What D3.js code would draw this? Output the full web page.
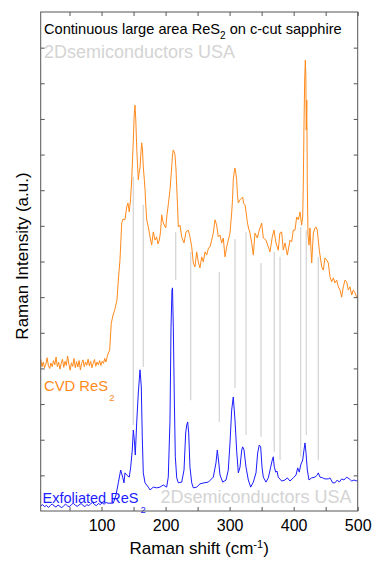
<!DOCTYPE html>
<html><head><meta charset="utf-8">
<script src="https://cdn.jsdelivr.net/npm/d3@7/dist/d3.min.js"></script>
<style>html,body{margin:0;padding:0;background:#fff;}svg{display:block;}text{font-family:"Liberation Sans",Arial,sans-serif;}</style>
</head><body><svg id="c" width="392" height="572"></svg>
<script>
// ---- data ----
const xTickValues = [100, 200, 300, 400, 500];
const xMinorTicks = [50, 150, 250, 350, 450];
const yTickValues = [1,2,3,4,5,6,7,8,9,10,11,12,13];

const cvdShift = [5,7,9,11,13,15,17,19,21,23,25,27,29,31,33,35,37,39,41,43,45,47,49,51,53,55,57,59,61,63,65,67,69,71,73,75,77,79,81,83,85,87,89,91,93,95,97,99,101,103,105,107,109,
112.7,115.2,118,120.6,124.1,126.2,128.8,131.5,133.5,136.6,139.3,141.3,143.3,145.2,147.1,149.6,151.0,152.2,153.5,154.9,156.2,157.4,158.8,160.1,161.3,162.7,164.0,165.2,166.6,167.9,169.1,170.5,173.0,175.7,178.3,180.8,183.5,186.1,188.2,190.2,192.1,193.9,196.4,200.2,202.2,204.2,206.9,209.6,210.8,212.1,213.5,214.7,216.3,217.4,218.6,219.9,222.5,225.2,228.8,231.9,235.5,238.1,240.8,243.3,245.9,248.6,251.1,253.7,256.4,258.9,261.6,264.2,267.0,269.4,272.0,274.5,277.2,279.8,282.3,285.0,287.6,290.1,292.8,295.4,297.9,300.6,303.2,304.5,305.7,307.2,308.4,309.7,311.0,312.3,313.5,316.2,318.9,320.4,321.7,324.0,325.9,327.6,329.5,331.8,334.5,337.0,339.6,343.2,346.3,350.1,352.6,356.8,360.4,363.1,366.6,369.3,372.4,376.0,378.5,381.3,383.8,386.5,390.1,394.3,396.9,399.4,402.1,404.7,407.3,409.9,412.5,414.1,415.0,416.1,417.2,418.2,419.0,419.7,420.5,421.3,422.4,424.0,425.5,427.1,428.2,430.7,433.3,434.9,436.9,440.0,443.8,446.3,448.9,451.6,454.1,456.7,459.4,461.9,464.5,467.2,469.7,472.4,475.0,477.5,480.2,482.8,485.3,488.0,490.6,493.1,495.8,498.4,500];
const cvdIntensity = [4.25,4.05,4.18,4.02,4.12,4.30,4.08,4.00,4.15,4.05,4.22,4.10,4.32,4.05,4.18,3.98,4.14,4.26,4.03,4.20,4.08,4.35,4.12,3.95,4.16,4.06,4.28,4.02,4.19,4.04,4.22,3.96,4.14,4.24,4.05,4.18,4.09,4.26,4.07,4.20,4.02,4.15,4.25,4.06,4.18,4.10,4.22,4.08,4.20,4.14,4.28,4.18,4.35,
4.52,5.27,5.50,5.64,5.92,6.48,7.04,8.08,8.19,8.17,8.53,8.64,8.39,8.73,9.29,10.41,11.11,11.39,10.97,10.21,9.71,9.29,9.51,9.62,9.99,10.33,10.13,9.65,9.34,9.01,8.59,8.17,7.97,7.69,7.46,7.83,7.60,7.69,7.49,7.60,7.83,8.31,8.08,7.94,8.31,8.59,9.01,9.65,9.99,10.13,10.07,9.99,9.57,9.09,8.59,7.97,8.02,7.69,7.52,7.83,7.88,7.69,7.41,6.96,6.85,7.27,6.99,6.82,7.13,6.99,7.27,7.18,7.38,7.41,7.60,7.80,8.17,8.02,7.69,7.74,7.52,7.66,7.13,7.41,7.60,7.80,8.36,8.73,9.29,9.51,9.62,9.48,9.29,8.87,8.64,8.73,8.78,8.81,8.64,8.59,8.36,8.11,7.94,7.80,7.52,7.18,7.80,7.66,7.88,8.08,7.66,7.60,7.41,7.27,7.69,7.88,7.52,7.32,7.80,7.83,7.32,7.52,7.18,7.60,7.55,7.88,7.88,8.25,8.17,8.39,8.02,8.25,9.09,10.77,12.09,12.65,12.23,10.69,11.53,9.15,7.74,7.46,7.94,7.32,6.96,7.80,7.94,7.97,7.88,7.32,6.85,6.76,7.10,7.04,6.96,6.57,6.43,6.54,6.40,6.48,6.29,6.20,6.00,6.29,6.48,6.43,6.20,6.29,6.06,6.20,6.12,6.00,5.98];

const exfShift = [5,8,11,14,17,20,23,26,29,32,35,38,41,44,47,50,53,56,59,62,65,68,71,74,77,80,83,86,89,92,95,98,101,104,107,110,
118.4,122.6,126.2,129.9,133.0,135.1,136.6,139.3,143.3,145.5,148.0,149.6,151.2,152.7,154.9,157.4,160.1,162.1,163.6,165.2,167.9,173.0,175.7,180.8,186.1,191.3,196.4,201.7,204.2,206.9,208.5,210.0,210.8,212.1,213.6,215.2,217.4,219.9,225.2,228.8,231.4,233.0,234.5,236.1,238.1,240.8,243.3,248.6,253.7,260.0,266.7,274.5,278.7,280.8,283.0,285.0,289.2,294.4,297.9,300.6,303.2,305.7,308.4,311.1,313.6,316.2,318.9,320.4,322.5,325.6,329.2,332.9,337.0,341.2,343.8,346.3,348.5,350.6,352.6,356.8,360.4,364.1,366.6,368.2,369.8,372.0,374.0,376.0,381.3,386.5,390.1,394.3,399.4,403.7,406.3,408.8,411.0,414.1,416.1,417.7,419.3,421.3,424.0,428.2,433.3,436.9,438.5,441.1,445.3,448.9,454.1,456.7,461.0,464.5,468.2,471.3,475.0,478.6,482.8,486.9,490.6,494.2,498.4,500];
const exfIntensity = [0.14,0.18,0.12,0.16,0.10,0.15,0.20,0.14,0.11,0.17,0.13,0.09,0.15,0.19,0.14,0.12,0.18,0.22,0.16,0.13,0.17,0.21,0.16,0.12,0.18,0.15,0.20,0.24,0.18,0.15,0.21,0.18,0.23,0.19,0.24,0.22,
0.22,0.45,0.79,1.15,0.95,0.79,1.07,1.01,0.95,1.23,1.71,2.27,1.99,1.57,2.47,3.31,3.96,3.48,2.08,1.07,0.79,0.67,0.59,0.67,0.65,0.67,0.73,0.67,0.95,2.55,5.16,6.20,6.26,5.16,3.20,1.52,0.93,0.79,0.81,1.15,2.19,2.41,2.50,2.19,1.23,0.79,0.65,0.67,0.76,0.79,0.81,0.95,1.35,1.71,1.37,1.01,0.81,0.87,1.15,1.91,2.83,3.20,2.55,1.66,1.07,1.23,1.71,1.80,1.71,1.23,0.87,0.67,0.81,1.07,1.63,1.85,1.80,1.23,0.95,0.81,0.93,1.23,1.43,1.52,1.23,1.09,1.12,0.95,0.84,0.87,0.93,0.84,0.93,1.01,1.21,1.09,1.29,1.43,1.71,1.91,1.63,1.15,0.87,0.93,0.95,1.01,1.07,0.95,0.93,0.90,0.90,0.93,0.79,0.79,0.87,0.81,0.90,0.87,0.95,0.90,0.84,0.87,0.84,0.87];

const markerShift  = [149.6,165.2,215.8,239.2,283.9,308.4,325.6,349.0,369.8,378.7,411.0,419.7,438.5];
const markerTop    = [9.37,8.59,7.83,7.27,6.71,7.63,7.83,6.96,7.27,7.13,7.97,7.88,7.13];
const markerBottom = [2.41,4.04,6.48,3.11,2.50,3.45,2.13,2.08,1.66,1.43,1.52,2.13,1.43];

const titleText = "Continuous large area ReS";
const titleRest = " on c-cut sapphire";
const watermark = "2Dsemiconductors USA";
const cvdLabel = "CVD ReS";
const exfLabel = "Exfoliated ReS";
const xLabel = "Raman shift (cm";
const yLabel = "Raman Intensity (a.u.)";

// ---- layout ----
const L = 40.7, R = 357.7, T = 12, B = 511;
const svg = d3.select("#c");
const x = d3.scaleLinear().domain([5, 500]).range([L, R]);
const y = d3.scaleLinear().domain([0, 14]).range([B, T]);
const orange = "#ff8a1c", blue = "#1c1cff", wmColor = "#d4d4d4", axisColor = "#555";

// watermarks
svg.append("text").attr("x", 44).attr("y", 57.5).attr("font-size", 18).attr("fill", wmColor).text(watermark);
svg.append("text").attr("x", 160.5).attr("y", 502.5).attr("font-size", 18).attr("fill", wmColor).text(watermark);

// marker lines
svg.append("g").selectAll("line").data(markerShift).join("line")
  .attr("x1", d => x(d)).attr("x2", d => x(d))
  .attr("y1", (d, i) => y(markerTop[i])).attr("y2", (d, i) => y(markerBottom[i]))
  .attr("stroke", "#d6d6d6").attr("stroke-width", 1.3);

// spectra
const line = d3.line().x(d => x(d[0])).y(d => y(d[1]));
svg.append("path").datum(cvdShift.map((s, i) => [s, cvdIntensity[i]]))
  .attr("d", line).attr("fill", "none").attr("stroke", orange).attr("stroke-width", 1);
svg.append("path").datum(exfShift.map((s, i) => [s, exfIntensity[i]]))
  .attr("d", line).attr("fill", "none").attr("stroke", blue).attr("stroke-width", 1);

// title
const t = svg.append("text").attr("x", 44).attr("y", 34.3).attr("font-size", 14.6).attr("fill", "#000");
t.append("tspan").text(titleText);
t.append("tspan").attr("dy", 4.5).attr("font-size", 10).text("2");
t.append("tspan").attr("dy", -4.5).text(titleRest);

// series labels
const c = svg.append("text").attr("x", 44).attr("y", 391).attr("font-size", 14.8).attr("fill", orange);
c.append("tspan").text(cvdLabel);
c.append("tspan").attr("dx", 1).attr("dy", 9.5).attr("font-size", 9.5).text("2");
const e = svg.append("text").attr("x", 42.5).attr("y", 503).attr("font-size", 14.5).attr("fill", blue);
e.append("tspan").text(exfLabel);
e.append("tspan").attr("dx", 2).attr("dy", 9.5).attr("font-size", 9.5).text("2");

// axes
function styleAxis(g) {
  g.select(".domain").remove();
  g.selectAll(".tick line").attr("stroke", axisColor);
  g.selectAll(".tick text").attr("font-size", 16).attr("fill", "#000").attr("font-family", '"Liberation Sans",Arial,sans-serif');
}
svg.append("g").attr("transform", `translate(0,${B})`)
  .call(d3.axisBottom(x).tickValues(xTickValues.concat(xMinorTicks)).tickSize(-4).tickPadding(9)
    .tickFormat(d => xTickValues.includes(d) ? d : ""))
  .call(styleAxis);
svg.append("g").attr("transform", `translate(0,${T})`)
  .call(d3.axisTop(x).tickValues(xTickValues.concat(xMinorTicks)).tickSize(-4).tickFormat(""))
  .call(styleAxis);
svg.append("g").attr("transform", `translate(${L},0)`)
  .call(d3.axisLeft(y).tickValues(yTickValues).tickSize(-4).tickFormat(""))
  .call(styleAxis);
svg.append("g").attr("transform", `translate(${R},0)`)
  .call(d3.axisRight(y).tickValues(yTickValues).tickSize(-4).tickFormat(""))
  .call(styleAxis);
svg.append("rect").attr("x", L).attr("y", T).attr("width", R - L).attr("height", B - T)
  .attr("fill", "none").attr("stroke", axisColor).attr("stroke-width", 1);

// axis titles
const xl = svg.append("text").attr("x", (L + R) / 2).attr("y", 553.5).attr("text-anchor", "middle").attr("font-size", 17).attr("fill", "#000");
xl.append("tspan").text(xLabel);
xl.append("tspan").attr("dy", -6).attr("font-size", 11).text("-1");
xl.append("tspan").attr("dy", 6).text(")");
svg.append("text").attr("transform", "translate(28,256) rotate(-90)").attr("text-anchor", "middle")
  .attr("font-size", 17).attr("fill", "#000").text(yLabel);
</script></body></html>
